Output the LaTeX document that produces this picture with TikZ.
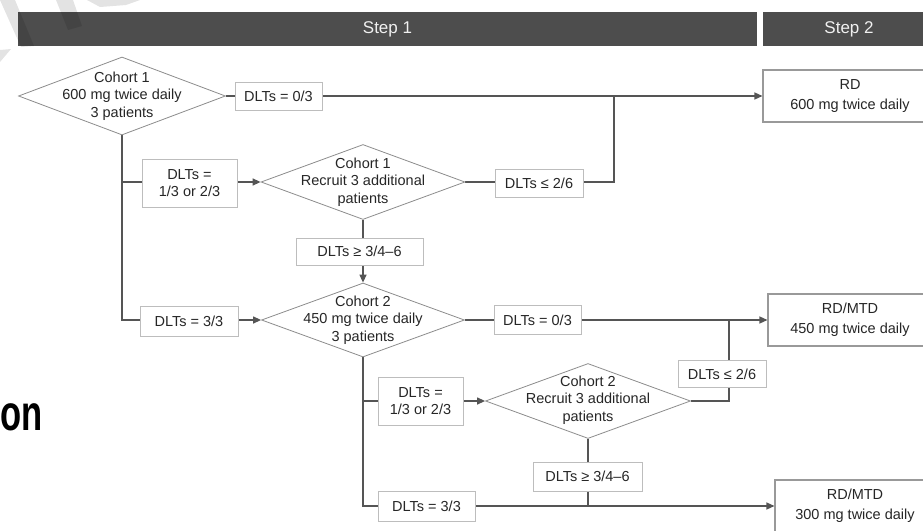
\documentclass[tikz,border=0pt]{standalone}
\usepackage{fontspec}
\setmainfont{Liberation Sans}
\usetikzlibrary{shapes.geometric,arrows.meta}
\definecolor{barfill}{HTML}{4D4D4D}
\definecolor{txt}{HTML}{262626}
\definecolor{wire}{HTML}{555555}
\definecolor{decline}{HTML}{8C8C8C}
\definecolor{condline}{HTML}{BDBDBD}
\definecolor{resline}{HTML}{999999}
\pgfdeclarelayer{bg}
\pgfsetlayers{bg,main}
\tikzset{
  bodyfont/.style={font=\fontsize{14.5}{17.5}\selectfont, text=txt},
  hdr/.style={fill=barfill, text=white!94!black, inner sep=0pt,
    font=\fontsize{17}{20}\selectfont, minimum height=34pt},
  decision/.style={diamond, draw=decline, line width=0.8pt, fill=white,
    inner sep=0pt},
  dectext/.style={bodyfont, align=center, inner sep=0pt},
  cond/.style={rectangle, draw=condline, line width=1pt, fill=white,
    bodyfont, align=center, inner sep=0pt},
  result/.style={rectangle, draw=resline, line width=1.1pt, fill=white,
    font=\fontsize{14.5}{20}\selectfont, text=txt, align=center,
    inner sep=0pt, minimum height=52pt},
  wireline/.style={draw=wire, line width=1.3pt},
  flow/.style={wireline, -{Triangle[length=8pt,width=7pt]}},
}
\begin{document}
\begin{tikzpicture}[x=1pt,y=-1pt]
\useasboundingbox (0,0) rectangle (923,530);
\clip (0,0) rectangle (923,530);

% column headers
\node[hdr, minimum width=739pt] (s1) at (387.5,29) {Step 1};
\node[hdr, minimum width=172pt] (s2) at (849,29) {Step 2};

% faint watermark strokes
\fill[black, opacity=0.11] (0,0) -- (15,0) -- (34,46) -- (21,47) -- cycle;
\fill[black, opacity=0.11] (0,50) -- (11,49) -- (0,62) -- cycle;
\fill[black, opacity=0.11] (56,0) -- (73,0) -- (82,26) -- (68,30) -- cycle;
\fill[black, opacity=0.11] (87,0) -- (140,0) -- (126,5) -- (100,7) -- cycle;

% title fragment at the left edge
\node[anchor=base east, inner sep=0pt, text=black,
  font=\fontsize{48}{48}\bfseries\selectfont] (ttl) at (43,430)
  {\scalebox{0.72}[1.04]{on}};

% decisions
\node[decision, minimum width=207pt, minimum height=78pt] (d1) at (122,96) {};
\node[dectext] (d1t) at (d1.center) {Cohort 1\\600 mg twice daily\\3 patients};
\node[decision, minimum width=204pt, minimum height=75pt] (d2) at (363,182) {};
\node[dectext] (d2t) at (d2.center) {Cohort 1\\Recruit 3 additional\\patients};
\node[decision, minimum width=203pt, minimum height=74pt] (d3) at (363,320) {};
\node[dectext] (d3t) at (d3.center) {Cohort 2\\450 mg twice daily\\3 patients};
\node[decision, minimum width=205pt, minimum height=75pt] (d4) at (588,401) {};
\node[dectext] (d4t) at ([yshift=1pt]d4.center) {Cohort 2\\Recruit 3 additional\\patients};

% conditions
\node[cond, minimum width=87pt, minimum height=28pt] (c1) at (278.5,96) {DLTs = 0/3};
\node[cond, minimum width=95pt, minimum height=48pt] (c2) at (189.5,183) {DLTs =\\1/3 or 2/3};
\node[cond, minimum width=88pt, minimum height=28pt] (c3) at (539,183) {DLTs ≤ 2/6};
\node[cond, minimum width=127pt, minimum height=27pt] (c4) at (359.5,251.5) {DLTs ≥ 3/4–6};
\node[cond, minimum width=98pt, minimum height=30pt] (c5) at (189,321) {DLTs = 3/3};
\node[cond, minimum width=87pt, minimum height=29pt] (c6) at (537.5,320) {DLTs = 0/3};
\node[cond, minimum width=88pt, minimum height=27pt] (c7) at (722,374) {DLTs ≤ 2/6};
\node[cond, minimum width=85pt, minimum height=48pt] (c8) at (420.5,401) {DLTs =\\1/3 or 2/3};
\node[cond, minimum width=109pt, minimum height=29pt] (c9) at (587.5,476.5) {DLTs ≥ 3/4–6};
\node[cond, minimum width=97pt, minimum height=30pt] (c10) at (426.5,506) {DLTs = 3/3};

% outcomes
\node[result, minimum width=174pt] (r1) at (850,96) {RD\\600 mg twice daily};
\node[result, minimum width=164pt] (r2) at (850,320) {RD/MTD\\450 mg twice daily};
\node[result, minimum width=160pt] (r3) at (855,506) {RD/MTD\\300 mg twice daily};

% junction points on the outcome lines
\coordinate (j1) at (614,96);
\coordinate (j2) at (729,320);
\coordinate (j3) at (588,506);

\begin{pgfonlayer}{bg}
  % cohort 1
  \draw[wireline] (d1.east) -- (c1.west);
  \draw[flow] (c1.east) -- (r1.west);
  \draw[wireline] (d1.south) |- (d3.west -| c5.west);
  \draw[wireline] (d1.south |- d2.west) -- (c2.west |- d2.west);
  \draw[flow] (c2.east |- d2.west) -- (d2.west);
  \draw[wireline] (d2.east) -- (c3.west |- d2.east);
  \draw[wireline] (c3.east |- d2.east) -| (j1);
  \draw[wireline] (d2.south) -- (d2.south |- c4.north);
  \draw[flow] (d3.north |- c4.south) -- (d3.north);
  \draw[flow] (c5.east |- d3.west) -- (d3.west);
  % cohort 2
  \draw[wireline] (d3.east) -- (c6.west);
  \draw[flow] (c6.east) -- (r2.west);
  \draw[wireline] (d4.east) -| (j2);
  \draw[wireline] (d3.south) |- (c10.west);
  \draw[wireline] (d3.south |- d4.west) -- (c8.west |- d4.west);
  \draw[flow] (c8.east |- d4.west) -- (d4.west);
  \draw[wireline] (d4.south) -- (d4.south |- c9.north);
  \draw[wireline] (d4.south |- c9.south) -- (j3);
  \draw[flow] (c10.east) -- (r3.west);
\end{pgfonlayer}
\end{tikzpicture}
\end{document}
